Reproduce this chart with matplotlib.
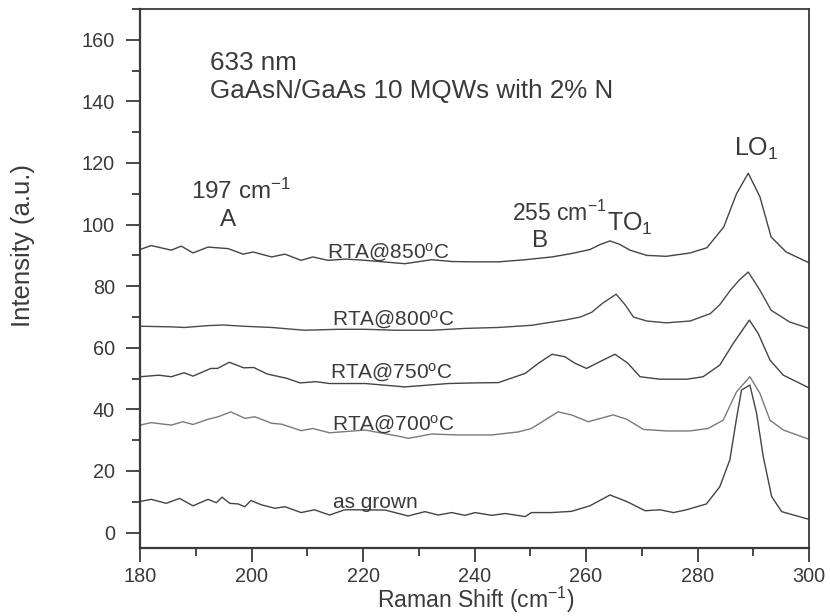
import matplotlib
matplotlib.use('Agg')
import matplotlib.pyplot as plt

plt.rcParams['font.family'] = ['Liberation Sans', 'DejaVu Sans']
plt.rcParams['mathtext.fontset'] = 'custom'
plt.rcParams['mathtext.rm'] = 'Liberation Sans'
plt.rcParams['mathtext.it'] = 'Liberation Sans'

# Raman spectra (shift in cm^-1, intensity in a.u.)
x_850 = [180, 182, 185.6, 187.4, 189.5, 192.2, 195.8, 198.5, 200.3, 203.6,
         206, 208.9, 211, 213.7, 217, 220.4, 227.5, 232.3, 236, 240.1,
         244.3, 249.1, 253.9, 257.4, 260.7, 262.5, 264.3, 266, 267.9, 270.9,
         274.4, 278.7, 281.7, 284.7, 287, 289.1, 291.2, 293.2, 295.9, 300]
y_850 = [91.9, 93.2, 91.7, 93, 90.8, 92.7, 92.2, 90.4, 91.1, 89.5,
         90.4, 88.4, 89.5, 88.4, 88.8, 88.4, 87.3, 88.6, 88.0, 87.9,
         87.9, 88.6, 89.5, 90.6, 91.9, 93.5, 94.7, 93.6, 91.7, 90,
         89.7, 90.8, 92.5, 99.2, 110, 116.7, 109, 96, 91.1, 87.6]

x_800 = [180, 185.6, 188, 192.2, 195, 198.5, 203.6, 209.5, 215.5, 220.4,
         225.9, 232.3, 238.4, 244.3, 250.2, 256.2, 259, 261, 263, 265.4,
         267, 268.5, 270.9, 274.4, 278.7, 282.3, 284, 285.9, 287.5, 289.1,
         291.2, 293.2, 296.5, 300]
y_800 = [67.0, 66.8, 66.6, 67.2, 67.4, 67, 66.6, 65.7, 66, 66,
         65.7, 65.7, 66.3, 66.6, 67.3, 69, 70, 71.5, 74.5, 77.4,
         74, 70, 68.7, 68.1, 68.7, 71.1, 74, 78.7, 82, 84.6,
         78.7, 72.2, 68.4, 66.3]

x_750 = [180, 183.4, 185.6, 187.9, 189.5, 192.7, 193.9, 196, 198.6, 200.4,
         202.8, 206.3, 208.7, 211.6, 214, 220.4, 227.5, 235.3, 240.1, 244.3,
         249.1, 251.4, 253.9, 256.2, 258, 260.1, 262.5, 265.2, 267.5, 269.7,
         273.3, 278.1, 281, 284, 286.4, 289.3, 290.9, 293, 295.4, 300]
y_750 = [50.6, 51.1, 50.6, 51.9, 50.8, 53.3, 53.3, 55.3, 53.5, 53.6,
         51.5, 50.1, 48.6, 49, 48.4, 48.4, 47.3, 48.4, 48.6, 48.7,
         51.7, 54.9, 57.9, 57.1, 55.0, 53.3, 55.5, 57.9, 55, 50.6,
         49.8, 49.8, 50.6, 54.4, 61.4, 69, 64.6, 56, 51.1, 47]

x_700 = [180, 182, 185.6, 187.7, 189.5, 192.2, 194, 196.3, 198.8, 200.6,
         203.6, 205.4, 208.9, 211, 214, 220.4, 226.9, 228.1, 232.3, 237.1,
         243.1, 247.9, 250.2, 252.6, 255, 257.4, 260.4, 264.9, 267.3, 270.3,
         274.4, 278.6, 281.9, 284.6, 287, 289.4, 291.2, 293, 295.4, 300]
y_700 = [34.9, 35.7, 34.9, 36, 35.1, 36.8, 37.6, 39.2, 37.1, 37.6,
         35.5, 35.2, 33.1, 33.8, 32.4, 33.3, 31.1, 30.6, 32, 31.7,
         31.7, 32.7, 33.8, 36.5, 39.2, 38.2, 36, 38.2, 36.8, 33.5,
         33, 33, 33.8, 36.5, 45.7, 50.6, 45.2, 36.5, 33.3, 30.3]

x_grown = [180, 182, 184.7, 187.1, 189.5, 192.2, 193.7, 194.7, 196.1, 197.6,
           198.8, 199.9, 201.8, 204.2, 206, 208.9, 211.3, 214, 216.7, 220.4,
           224, 228.1, 231.1, 233.5, 235.9, 238.3, 240.1, 243.1, 245.5, 249.1,
           250.2, 253.8, 257.4, 260.7, 264.3, 267.3, 270.6, 273.3, 275.7, 278,
           281.6, 284, 285.8, 287, 287.9, 289.4, 290.6, 291.8, 293.3, 295.1,
           300]
y_grown = [10.1, 10.8, 9.5, 11.1, 8.7, 10.8, 9.7, 11.5, 9.5, 9.3,
           8.4, 10.4, 9, 7.9, 8.4, 6.5, 7.4, 5.7, 7.4, 7.4,
           7.3, 5.4, 6.8, 5.7, 6.5, 5.6, 6.5, 5.6, 6.2, 5.2,
           6.5, 6.5, 6.9, 8.7, 12.2, 10.1, 7.1, 7.4, 6.5, 7.4,
           9.3, 14.9, 23.6, 37.1, 46.3, 47.9, 38.7, 24.6, 11.7, 6.8,
           4.3]

curve_labels = [r'RTA@850$^{\rm o}$C', r'RTA@800$^{\rm o}$C', r'RTA@750$^{\rm o}$C',
                r'RTA@700$^{\rm o}$C', 'as grown']
label_x = [213.5, 214.4, 214.1, 214.4, 214.6]
label_y = [89.0, 67.3, 50.2, 33.3, 8.0]

ink = '#3a3a3a'

fig = plt.figure(figsize=(8.3, 6.16), dpi=100)
ax = fig.add_axes([0.1687, 0.1104, 0.806, 0.875])

ax.plot(x_850, y_850, color='#444444', lw=1.0)
ax.plot(x_800, y_800, color='#4a4a4a', lw=1.0)
ax.plot(x_750, y_750, color='#444444', lw=1.0)
ax.plot(x_700, y_700, color='#7a7a7a', lw=1.0)
ax.plot(x_grown, y_grown, color='#444444', lw=1.0)

for lab, lx, ly in zip(curve_labels, label_x, label_y):
    ax.text(lx, ly, lab, fontsize=15, color=ink, va='baseline', ha='left')

ax.text(192.6, 152.6, '633 nm', fontsize=18.7, color=ink, va='center')
ax.text(192.6, 143.5, 'GaAsN/GaAs 10 MQWs with 2% N', fontsize=18.7, color=ink, va='center')
ax.text(189.1, 110.8, r'197 cm$^{-1}$', fontsize=17.5, color=ink, va='center')
ax.text(195.7, 101.6, 'A', fontsize=17.5, color=ink, va='center', ha='center')
ax.text(246.7, 103.6, r'255 cm$^{-1}$', fontsize=16.5, color=ink, va='center')
ax.text(251.8, 94.6, 'B', fontsize=17.5, color=ink, va='center', ha='center')
ax.text(263.8, 100.1, r'TO$_1$', fontsize=18, color=ink, va='center')
ax.text(286.5, 124.6, r'LO$_1$', fontsize=18, color=ink, va='center')

ax.set_xlim(180, 300)
ax.set_ylim(-5, 170)
ax.set_xticks(range(180, 301, 20))
ax.set_xticks(range(190, 300, 20), minor=True)
ax.set_yticks(range(0, 161, 20))
ax.set_yticks(range(10, 171, 20), minor=True)
ax.tick_params(which='major', direction='out', length=10, width=1.3, color=ink,
               labelsize=14.3, labelcolor=ink)
ax.tick_params(which='minor', direction='out', length=6, width=1.3, color=ink)
ax.tick_params(axis='x', which='major', pad=4)
ax.tick_params(axis='y', which='major', pad=8)
for side in ['left', 'bottom']:
    ax.spines[side].set_linewidth(1.6)
    ax.spines[side].set_color(ink)
for side in ['top', 'right']:
    ax.spines[side].set_linewidth(1.3)
    ax.spines[side].set_color(ink)

fig.text(0.028, 0.602, 'Intensity (a.u.)', rotation=90, fontsize=18.5, color=ink,
         ha='center', va='center')
fig.text(0.573, 0.013, r'Raman Shift (cm$^{-1}$)', fontsize=16.5, color=ink,
         ha='center', va='baseline')

fig.savefig('out.png', dpi=100)
